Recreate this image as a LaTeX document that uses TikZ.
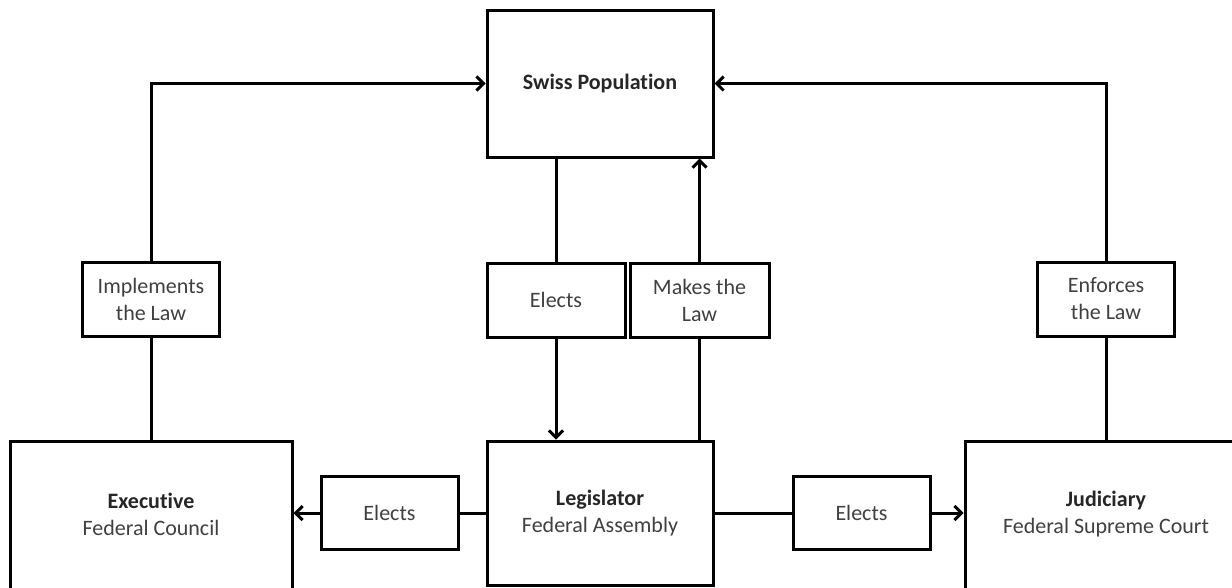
\documentclass[tikz,border=0pt]{standalone}
\usepackage{fontspec}
\setmainfont{Carlito}[Ligatures=NoCommon]
\usetikzlibrary{arrows.meta}
\definecolor{txt}{HTML}{404040}
\definecolor{btxt}{HTML}{262626}
\tikzset{
  box/.style={draw=black, line width=3pt, fill=white, inner sep=0pt, align=center, text=txt,
    font=\fontsize{22}{27}\selectfont},
  txtonly/.style={inner sep=0pt, align=center, text=txt, font=\fontsize{22}{27}\selectfont},
  conn/.style={line width=3pt, draw=black},
  arr/.style={conn, -{Straight Barb[length=7pt,width=14pt,line width=3pt]}},
}
\begin{document}
\begin{tikzpicture}[x=1pt,y=-1pt]
\useasboundingbox (0,0) rectangle (1232,587);
\clip (0,0) rectangle (1232,587);
% main boxes
\node[box, minimum width=226pt, minimum height=147pt] (sp) at (600,83.5)
  {\textbf{\color{btxt}Swiss Population}};
\node[box, minimum width=226pt, minimum height=144pt] (leg) at (600,513)
  {\textbf{\color{btxt}Legislator}\\Federal Assembly};
\node[box, minimum width=282pt, minimum height=180pt] (exec) at (151,531) {};
\node[txtonly] (exect) at (151,514) {\textbf{\color{btxt}Executive}\\Federal Council};
\node[box, minimum width=282pt, minimum height=180pt] (jud) at (1106,531) {};
\node[txtonly] (judt) at (1106,514) {\textbf{\color{btxt}Judiciary}\\Federal Supreme Court};
% label boxes
\node[box, minimum width=138pt, minimum height=74pt] (e1) at (556,300) {Elects};
\node[box, minimum width=139pt, minimum height=74pt] (mk) at (699.5,300) {Makes the\\Law};
\node[box, minimum width=137pt, minimum height=73pt] (e2) at (389.5,513) {Elects};
\node[box, minimum width=137pt, minimum height=73pt] (e3) at (861.5,513) {Elects};
\node[box, minimum width=137pt, minimum height=74pt] (impl) at (151,299) {Implements\\the Law};
\node[box, minimum width=137pt, minimum height=74pt] (enf) at (1106,299) {Enforces\\the Law};
% connectors
\draw[conn] (exec.north) -- (impl.south);
\draw[arr] (impl.north) |- (sp.west);
\draw[conn] (jud.north) -- (enf.south);
\draw[arr] (enf.north) |- (sp.east);
\draw[conn] (sp.south -| e1.north) -- (e1.north);
\draw[arr] (e1.south) -- (e1.south |- leg.north);
\draw[conn] (leg.north -| mk.south) -- (mk.south);
\draw[arr] (mk.north) -- (mk.north |- sp.south);
\draw[conn] (leg.west) -- (e2.east);
\draw[arr] (e2.west) -- (e2.west -| exec.east);
\draw[conn] (leg.east) -- (e3.west);
\draw[arr] (e3.east) -- (e3.east -| jud.west);
\end{tikzpicture}
\end{document}
